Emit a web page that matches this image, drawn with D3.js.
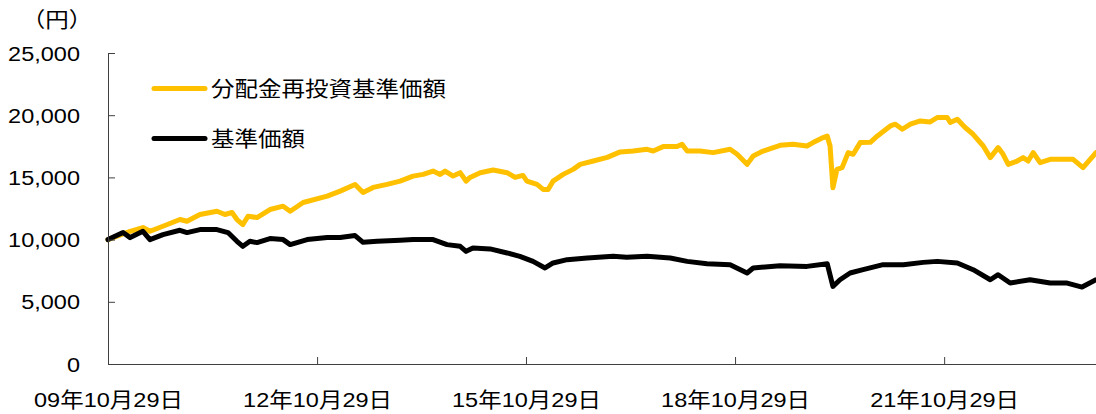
<!DOCTYPE html>
<html>
<head>
<meta charset="utf-8">
<script src="https://cdn.jsdelivr.net/npm/d3@7"></script>
<style>
html,body{margin:0;padding:0;background:#fff;}
svg{display:block;}
text{font-family:"Liberation Sans",Arial,"Noto Sans CJK JP",sans-serif;fill:#000;}
</style>
</head>
<body>
<svg id="chart" width="1096" height="414"></svg>
<script>
// ---- data ----
const seriesNames = ["分配金再投資基準価額", "基準価額"];
const unitLabel = "（円）";
const yTicks = [0, 5000, 10000, 15000, 20000, 25000];
const xTickDates = ["2009-10-29", "2012-10-29", "2015-10-29", "2018-10-29", "2021-10-29"];
const xDomain = ["2009-10-29", "2024-01-03"];

const reinvDates = ["2009-10-29","2010-02-22","2010-04-30","2010-06-06","2010-08-13","2010-11-10","2010-12-17","2011-02-23","2011-05-23","2011-07-04","2011-08-10","2011-09-05","2011-10-06","2011-11-02","2011-12-19","2012-02-25","2012-05-04","2012-06-10","2012-08-17","2012-12-21","2013-02-27","2013-05-16","2013-06-27","2013-08-19","2013-10-31","2014-01-07","2014-03-16","2014-05-08","2014-06-29","2014-08-05","2014-08-31","2014-10-12","2014-11-18","2014-12-19","2015-01-09","2015-03-03","2015-05-10","2015-07-22","2015-09-02","2015-10-13","2015-11-03","2015-12-26","2016-01-27","2016-02-22","2016-03-19","2016-05-11","2016-07-02","2016-08-08","2016-10-16","2016-12-28","2017-03-06","2017-05-13","2017-07-25","2017-08-26","2017-10-17","2017-12-29","2018-01-24","2018-02-20","2018-04-28","2018-07-06","2018-10-03","2018-11-09","2018-12-31","2019-02-01","2019-03-25","2019-06-22","2019-08-29","2019-11-10","2019-12-12","2020-02-03","2020-02-24","2020-03-10","2020-03-25","2020-04-15","2020-05-12","2020-06-13","2020-07-09","2020-08-15","2020-10-07","2020-11-13","2021-01-20","2021-02-15","2021-03-24","2021-05-05","2021-06-26","2021-08-17","2021-09-23","2021-11-14","2021-11-30","2022-01-06","2022-02-16","2022-03-30","2022-05-22","2022-06-28","2022-08-08","2022-09-03","2022-09-30","2022-11-16","2022-12-17","2023-01-12","2023-02-08","2023-03-16","2023-05-08","2023-07-15","2023-09-05","2023-10-27","2024-01-03"];
const reinvValues = [10000,10669,10968,10669,11073,11613,11476,12016,12282,12016,12177,11613,11210,11879,11774,12419,12685,12282,12984,13492,13895,14435,13790,14194,14435,14702,15105,15242,15508,15242,15508,15105,15379,14702,15000,15379,15589,15379,15000,15161,14702,14435,14032,14032,14702,15242,15645,16048,16315,16613,17050,17121,17258,17121,17476,17476,17661,17121,17121,16992,17258,16855,16048,16718,17121,17581,17661,17524,17798,18202,18331,17524,14169,15645,15782,16992,16855,17798,17822,18331,19137,19274,18871,19274,19540,19460,19815,19815,19411,19677,19008,18468,17524,16589,17395,16855,16048,16315,16589,16315,16992,16185,16452,16452,16452,15782,16992];

const navDates = ["2009-10-29","2010-01-16","2010-02-22","2010-04-30","2010-06-06","2010-08-13","2010-11-10","2010-12-17","2011-02-23","2011-05-23","2011-07-20","2011-09-05","2011-10-06","2011-11-12","2011-12-19","2012-02-25","2012-05-04","2012-06-10","2012-09-07","2012-12-21","2013-02-27","2013-05-16","2013-06-27","2013-09-09","2014-01-07","2014-03-16","2014-06-29","2014-09-10","2014-11-18","2014-12-19","2015-01-24","2015-04-24","2015-07-22","2015-09-27","2015-12-05","2016-02-06","2016-03-19","2016-06-01","2016-09-14","2017-01-28","2017-04-09","2017-07-25","2017-11-23","2018-02-20","2018-06-04","2018-10-03","2018-12-31","2019-02-01","2019-06-22","2019-11-10","2020-02-24","2020-03-25","2020-05-01","2020-06-23","2020-08-30","2020-12-13","2021-03-29","2021-07-11","2021-09-23","2022-01-06","2022-03-30","2022-06-28","2022-08-08","2022-10-10","2023-01-22","2023-05-08","2023-08-05","2023-10-22","2024-01-03"];
const navValues = [10000,10565,10161,10669,10000,10403,10750,10565,10806,10806,10565,9863,9460,9863,9758,10081,10000,9597,10000,10161,10161,10323,9782,9863,9944,10000,10000,9597,9460,9056,9331,9250,8927,8653,8250,7718,8121,8387,8524,8653,8589,8653,8524,8250,8065,7984,7315,7718,7903,7847,8065,6234,6774,7315,7581,7984,7984,8169,8250,8121,7581,6774,7177,6508,6774,6508,6508,6185,6774];

const seriesColors = ["#FFC000", "#000000"];

// ---- chart ----
(function () {
const parse = d3.timeParse("%Y-%m-%d");
const mLeft = 108, mRight = 1096, mTop = 53, mBottom = 364;
const SX = 1.12;
const FS = 21;

const svg = d3.select("#chart");
const x = d3.scaleTime().domain(xDomain.map(parse)).range([mLeft, mRight]);
const y = d3.scaleLinear().domain([0, 25000]).range([mBottom, mTop]);

const fmtY = d3.format(",");
const fmtX = d3.timeFormat("%y年%m月%d日");

// lines
const line = d3.line().x(d => x(d[0])).y(d => y(d[1]));
const reinv = reinvDates.map((d, i) => [parse(d), reinvValues[i]]);
const nav = navDates.map((d, i) => [parse(d), navValues[i]]);
[reinv, nav].forEach((data, i) => {
  svg.append("path").datum(data)
    .attr("d", line)
    .attr("fill", "none")
    .attr("stroke", seriesColors[i])
    .attr("stroke-width", 5)
    .attr("stroke-linejoin", "round")
    .attr("stroke-linecap", "round");
});

// y axis
const gy = svg.append("g").attr("transform", `translate(${mLeft},0)`)
  .call(d3.axisLeft(y).tickValues(yTicks).tickSizeInner(-7).tickSizeOuter(0).tickFormat(fmtY));
gy.select(".domain").attr("stroke", "#404040");
gy.selectAll(".tick line").attr("stroke", "#404040");
gy.selectAll(".tick text")
  .attr("x", null).attr("dy", null)
  .attr("font-size", FS)
  .attr("font-family", null)
  .attr("text-anchor", "end")
  .attr("dominant-baseline", "central")
  .attr("transform", `translate(-28,0) scale(${SX},1)`);

// x axis
const gx = svg.append("g").attr("transform", `translate(0,${mBottom})`)
  .call(d3.axisBottom(x).tickValues(xTickDates.map(parse)).tickSizeInner(-7).tickSizeOuter(0).tickFormat(fmtX));
gx.select(".domain").attr("stroke", "#404040");
gx.selectAll(".tick line").attr("stroke", "#404040");
gx.selectAll(".tick text")
  .attr("y", null).attr("dy", null)
  .attr("font-size", FS)
  .attr("text-anchor", "middle")
  .attr("transform", `translate(0,42.5) scale(${SX},1)`);
svg.selectAll("g").attr("font-family", null).attr("font-size", null);

// unit label
svg.append("text").text(unitLabel)
  .attr("font-size", FS)
  .attr("text-anchor", "middle")
  .attr("dominant-baseline", "central")
  .attr("transform", `translate(57,20) scale(${SX},1)`);

// legend
const legY = [88.5, 138.5];
seriesNames.forEach((name, i) => {
  svg.append("line")
    .attr("x1", 154).attr("x2", 205)
    .attr("y1", legY[i]).attr("y2", legY[i])
    .attr("stroke", seriesColors[i]).attr("stroke-width", 5)
    .attr("stroke-linecap", "round");
  svg.append("text").text(name)
    .attr("font-size", FS)
    .attr("dominant-baseline", "central")
    .attr("transform", `translate(211,${legY[i]}) scale(${SX},1)`);
});
})();
</script>
</body>
</html>
